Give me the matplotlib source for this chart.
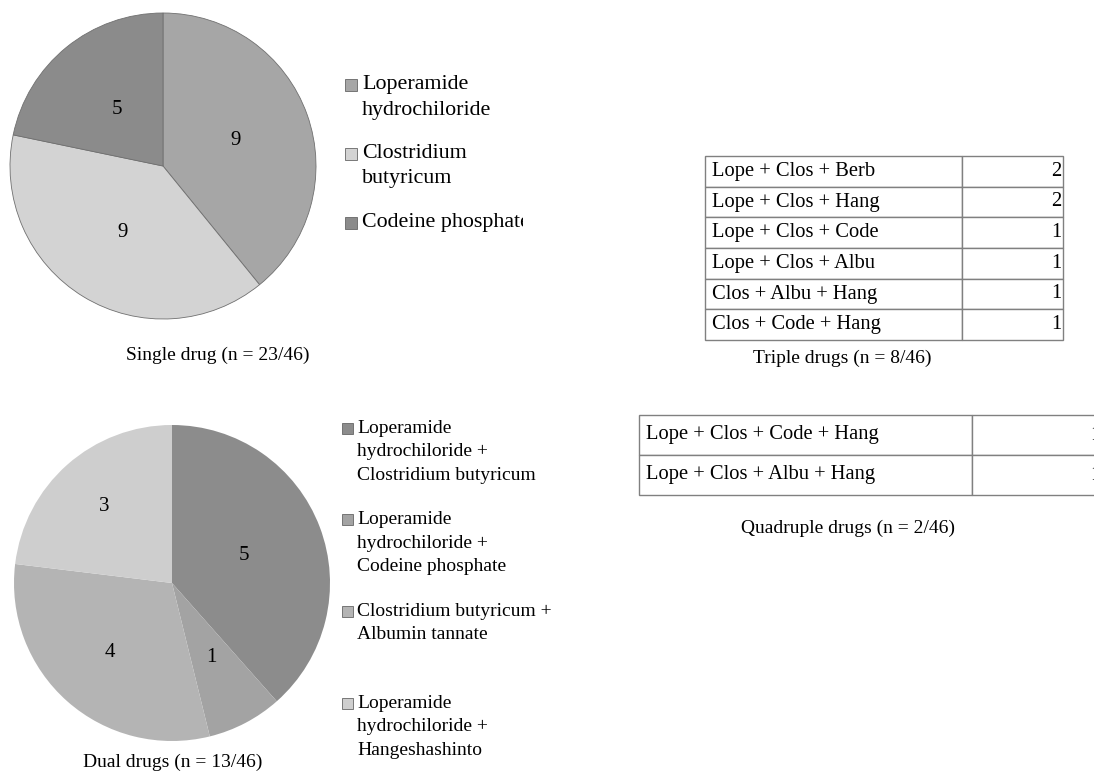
import textwrap
import matplotlib
matplotlib.use('Agg')
import matplotlib.pyplot as plt
from matplotlib.patches import Rectangle
from matplotlib.table import Table

# Datos
single_labels = ['Loperamide hydrochiloride', 'Clostridium butyricum', 'Codeine phosphate']
single_counts = [9, 9, 5]

dual_labels = ['Loperamide hydrochiloride + Clostridium butyricum',
               'Loperamide hydrochiloride + Codeine phosphate',
               'Clostridium butyricum + Albumin tannate',
               'Loperamide hydrochiloride + Hangeshashinto']
dual_counts = [5, 1, 4, 3]

triple_combos = ['Lope + Clos + Berb', 'Lope + Clos + Hang', 'Lope + Clos + Code',
                 'Lope + Clos + Albu', 'Clos + Albu + Hang', 'Clos + Code + Hang']
triple_counts = [2, 2, 1, 1, 1, 1]

quad_combos = ['Lope + Clos + Code + Hang', 'Lope + Clos + Albu + Hang']
quad_counts = [1, 1]

total_patients = 46

single_colors = ['#a6a6a6', '#d3d3d3', '#8b8b8b']
dual_colors = ['#8c8c8c', '#a3a3a3', '#b4b4b4', '#cecece']

W, H = 1094, 771
plt.rcParams['font.family'] = 'Liberation Serif'
fig = plt.figure(figsize=(W / 100, H / 100), dpi=100)


def px_axes(x0, y0, x1, y1):
    # ejes colocados en coordenadas de pixel (origen arriba a la izquierda)
    return fig.add_axes([x0 / W, 1 - y1 / H, (x1 - x0) / W, (y1 - y0) / H])


def caption(x, y, s):
    fig.text(x / W, 1 - y / H, s, ha='center', va='center', fontsize=14)


def draw_pie(cx, cy, r, counts, colors, wedgeprops, label_dist):
    ax = px_axes(cx - r, cy - r, cx + r, cy + r)
    tot = sum(counts)
    _, _, autotexts = ax.pie(counts, colors=colors, startangle=90, counterclock=False,
                             autopct=lambda p: f'{p * tot / 100:.0f}', pctdistance=0.5,
                             wedgeprops=wedgeprops, textprops=dict(fontsize=15))
    # distancia radial de cada numero (como la coloca Excel)
    for t, d in zip(autotexts, label_dist):
        x, y = t.get_position()
        t.set_position((x * d / 0.5, y * d / 0.5))
    ax.set_xlim(-1, 1)
    ax.set_ylim(-1, 1)


def draw_legend(rect, labels, colors, first_y, step, line_gap, box_x, box, text_x, wrap, fs):
    x0, y0, x1, y1 = rect
    ax = px_axes(x0, y0, x1, y1)
    ax.set_xlim(x0, x1)
    ax.set_ylim(y1, y0)
    ax.axis('off')
    for i, (lab, col) in enumerate(zip(labels, colors)):
        y = first_y + i * step
        ax.add_patch(Rectangle((box_x, y - box / 2), box, box, facecolor=col,
                               edgecolor='#666666', linewidth=0.6))
        for j, line in enumerate(textwrap.wrap(lab, wrap)):
            ax.text(text_x, y + j * line_gap, line, ha='left', va='center',
                    fontsize=fs, clip_on=True)


def draw_table(x0, y0, x1, y1, col_split, combos, counts):
    ax = px_axes(x0, y0, x1, y1)
    ax.axis('off')
    tb = Table(ax, bbox=[0, 0, 1, 1])
    w0 = (col_split - x0) / (x1 - x0)
    n = len(combos)
    for i, (c, v) in enumerate(zip(combos, counts)):
        a = tb.add_cell(i, 0, w0, 1 / n, text=c, loc='left', edgecolor='#808080')
        b = tb.add_cell(i, 1, 1 - w0, 1 / n, text=str(v), loc='right', edgecolor='#808080')
        a.PAD = 7 / (col_split - x0)
        b.PAD = 2 / (x1 - col_split)
        a.set_linewidth(1.0)
        b.set_linewidth(1.0)
    tb.auto_set_font_size(False)
    tb.set_fontsize(14.8)
    ax.add_table(tb)


# Un solo farmaco
draw_pie(163, 166, 153, single_counts, single_colors,
         dict(edgecolor='#707070', linewidth=0.6), [0.5, 0.51, 0.48])
draw_legend((335, 60, 523, 240), single_labels, single_colors,
            85, 69, 25, 345, 12, 362, 17, 15.8)
caption(218, 355, f'Single drug (n = {sum(single_counts)}/{total_patients})')

# Dos farmacos
draw_pie(172, 583, 158, dual_counts, dual_colors, dict(edgecolor='none'),
         [0.49, 0.53, 0.59, 0.65])
draw_legend((335, 410, 580, 771), dual_labels, dual_colors,
            428, 91.7, 23.5, 342, 11, 357, 23, 14)
caption(173, 762, f'Dual drugs (n = {sum(dual_counts)}/{total_patients})')

# Tres farmacos
draw_table(705, 156, 1063, 340, 962, triple_combos, triple_counts)
caption(842, 358, f'Triple drugs (n = {sum(triple_counts)}/{total_patients})')

# Cuatro farmacos
draw_table(639, 415, 1102, 495, 972, quad_combos, quad_counts)
caption(848, 528, f'Quadruple drugs (n = {sum(quad_counts)}/{total_patients})')

fig.savefig('out.png', dpi=100)
